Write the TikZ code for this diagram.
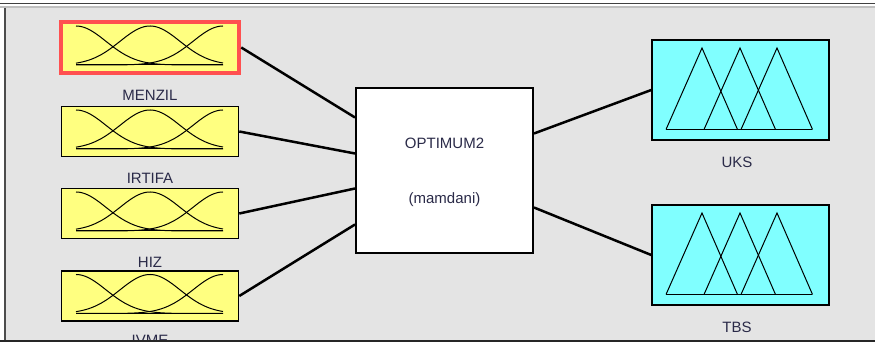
\documentclass[tikz,border=0pt]{standalone}
\usepackage{fontspec}
\setmainfont{Liberation Sans}
\usetikzlibrary{calc}

\definecolor{panel}{HTML}{E4E4E4}
\definecolor{inyellow}{HTML}{FFFF80}
\definecolor{outcyan}{HTML}{80FFFF}
\definecolor{selred}{HTML}{FF5050}
\definecolor{labelink}{HTML}{2A2A48}

\tikzset{
  inbox/.style={draw, fill=inyellow, line width=1.5pt, minimum width=177pt, minimum height=50pt, inner sep=0pt},
  outbox/.style={draw, fill=outcyan, line width=1.5pt, minimum width=177pt, minimum height=100pt, inner sep=0pt},
  fisbox/.style={draw, fill=white, line width=2pt, minimum width=177pt, minimum height=165pt, inner sep=0pt},
  varlabel/.style={text=labelink, font=\fontsize{15}{17}\selectfont, inner sep=0pt},
  wire/.style={line width=2.5pt},
  mf/.style={line width=1pt},
}

\begin{document}
\begin{tikzpicture}[x=1pt, y=-1pt]

\useasboundingbox (0,0) rectangle (875,344);
\fill[white] (0,0) rectangle (875,344);
\fill[panel] (6,8) rectangle (875,341);

% inputs
\node[name=menzil, inbox] at (150,47.5) {};
\node[name=irtifa, inbox] at (150,131.5) {};
\node[name=hiz, inbox] at (150,213.5) {};
\node[name=ivme, inbox] at (150,296) {};
\draw[selred, line width=4pt] (menzil.south west) rectangle (menzil.north east);

\node[name=l1, varlabel] at (150,95) {MENZIL};
\node[name=l2, varlabel] at (150,178) {IRTIFA};
\node[name=l3, varlabel] at (150,262) {HIZ};
\node[name=l4, varlabel] at (150,340) {IVME};

\foreach \v in {menzil,irtifa,hiz,ivme}{
  \begin{scope}[shift={(\v.center)}]
    \draw[mf] (-74,17.5) -- (73,17.5);
    \foreach \c in {-74,0,73}
      \draw[mf] plot[domain=-74:73, samples=70, smooth] (\x, {17.5-39*exp(-0.5*((\x-\c)/30)^2)});
  \end{scope}
}

% fis
\node[name=fis, fisbox] at (444.5,170.5) {};
\node[name=t1, varlabel] at ($(fis.center)+(0,-27)$) {OPTIMUM2};
\node[name=t2, varlabel] at ($(fis.center)+(0,29)$) {(mamdani)};

% outputs
\node[name=uks, outbox] at (740.5,90) {};
\node[name=tbs, outbox] at (740.5,255) {};
\node[name=l5, varlabel] at (737,162) {UKS};
\node[name=l6, varlabel] at (737,327) {TBS};

\foreach \v in {uks,tbs}{
  \begin{scope}[shift={(\v.center)}]
    \draw[mf] (-74.5,39.5) -- (71.5,39.5);
    \foreach \c in {-38.5,-0.5,36.5}
      \draw[mf] (\c-36,39.5) -- (\c,-42) -- (\c+35.5,39.5);
  \end{scope}
}

\coordinate (in1) at ($(fis.west)+(0,-53)$);
\coordinate (in2) at ($(fis.west)+(0,-17)$);
\coordinate (in3) at ($(fis.west)+(0,18)$);
\coordinate (in4) at ($(fis.west)+(0,54)$);
\coordinate (out1) at ($(fis.east)+(0,-37)$);
\coordinate (out2) at ($(fis.east)+(0,37)$);

\draw[wire] ($(menzil.east)+(2,0)$) -- (in1);
\draw[wire] (irtifa.east) -- (in2);
\draw[wire] (hiz.east) -- (in3);
\draw[wire] (ivme.east) -- (in4);
\draw[wire] (out1) -- (uks.west);
\draw[wire] (out2) -- (tbs.west);

% frame
\fill[white] (0,341) rectangle (875,344);
\draw[black!75, line width=1.5pt] (0,3.5) -- (875,3.5);
\draw[black!25, line width=1.5pt] (0,7) -- (875,7);
\draw[black!70, line width=1.2pt] (5,8) -- (5,341);
\draw[black!85, line width=2pt] (0,341.5) -- (875,341.5);

\end{tikzpicture}
\end{document}
